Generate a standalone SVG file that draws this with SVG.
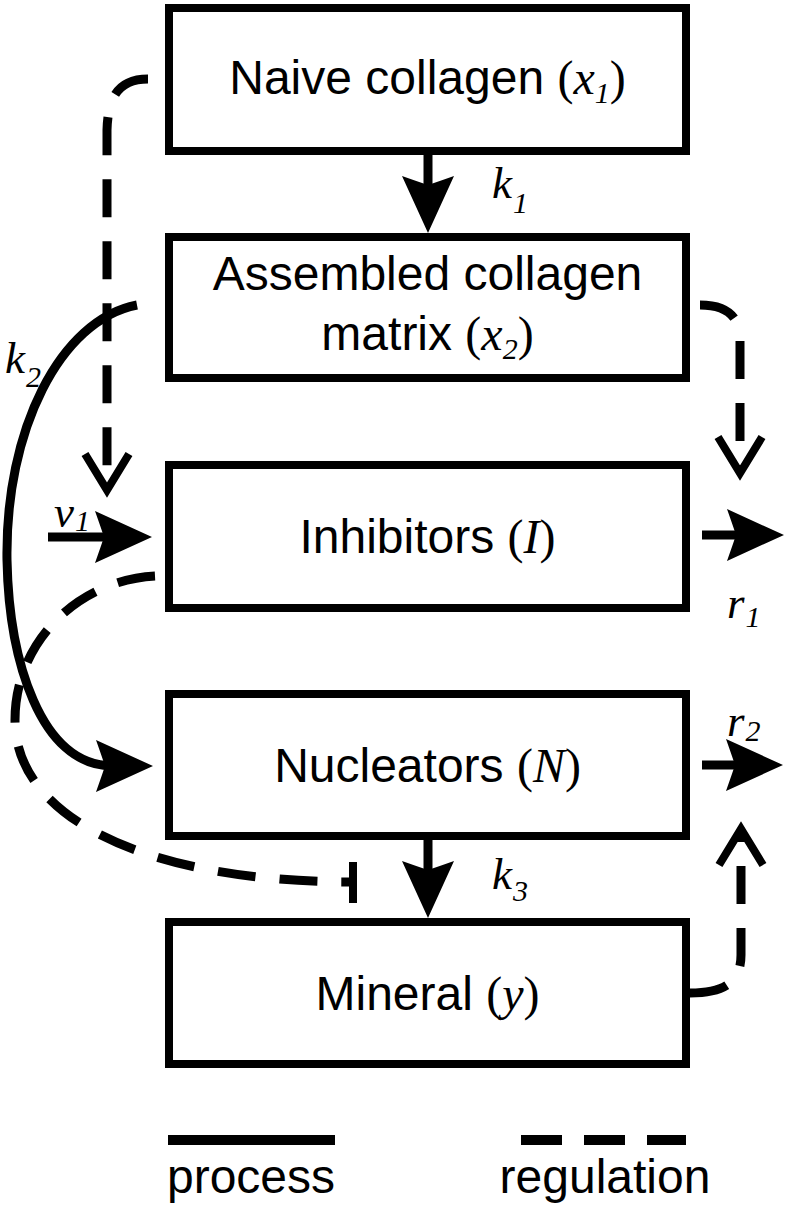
<svg xmlns="http://www.w3.org/2000/svg" xmlns:xlink="http://www.w3.org/1999/xlink" width="787" height="1213" viewBox="0 0 787 1213">
<style>
.box{fill:#fff;stroke:#000;stroke-width:8}
.t{font-family:"Liberation Sans",Arial,sans-serif;font-size:48px;fill:#000;text-anchor:middle}
.m{font-family:"Liberation Serif","Times New Roman",serif}
.i{font-style:italic}
.s{font-size:30px}
.lab{font-family:"Liberation Serif","Times New Roman",serif;font-style:italic;font-size:45px;fill:#000}
.ls{font-size:30px}
.sol{fill:none;stroke:#000;stroke-width:9}
.dsh{fill:none;stroke:#000;stroke-width:9;stroke-dasharray:38 24}
.v{fill:none;stroke:#000;stroke-width:8;stroke-linejoin:miter}
.lg{font-family:"Liberation Sans",Arial,sans-serif;font-size:48px;fill:#000;text-anchor:middle}
</style>
<defs>
<path id="ah" d="M0,0 L-57,-26 Q-51,-9 -48,0 Q-51,9 -57,26 Z" fill="#000"/>
<path id="va" d="M-36,-22 L0,0 L-36,22" class="v"/>
</defs>
<g id="connectors">
<!-- k1 -->
<line x1="428" y1="155" x2="428" y2="200" class="sol"/>
<use xlink:href="#ah" transform="translate(428,233) rotate(90)"/>
<!-- k3 -->
<line x1="428" y1="840" x2="428" y2="885" class="sol"/>
<use xlink:href="#ah" transform="translate(428,918) rotate(90)"/>
<!-- k2 -->
<path d="M137,305 C60,320 5,430 7,560 C9,660 40,765 112,766" class="sol"/>
<use xlink:href="#ah" transform="translate(153,766)"/>
<!-- v1 -->
<line x1="48" y1="537" x2="112" y2="537" class="sol"/>
<use xlink:href="#ah" transform="translate(152,537)"/>
<!-- r1 -->
<line x1="702" y1="535" x2="745" y2="535" class="sol"/>
<use xlink:href="#ah" transform="translate(784,535)"/>
<!-- r2 -->
<line x1="702" y1="765" x2="745" y2="765" class="sol"/>
<use xlink:href="#ah" transform="translate(783,765)"/>
<!-- regulation x1 -> I -->
<path d="M148,79 C120,79 108,95 107,130 L107,488" class="dsh"/>
<use xlink:href="#va" transform="translate(107,490) rotate(90)"/>
<!-- regulation x2 -> r1 -->
<path d="M700,305 C725,305 740,315 740,340 L740,471" class="dsh"/>
<use xlink:href="#va" transform="translate(740,473) rotate(90)"/>
<!-- regulation y -> r2 -->
<path d="M690,993 C720,993 741,985 741,955 L741,831" class="dsh"/>
<use xlink:href="#va" transform="translate(741,829) rotate(-90)"/>
<!-- inhibition I -| k3 -->
<path d="M155,576 C80,580 15,640 15,720 C15,820 150,882 353,882" class="dsh"/>
<line x1="353" y1="862" x2="353" y2="903" class="v"/>
</g>
<g id="labels">
<text x="492" y="198" class="lab">k<tspan class="ls" dx="1" dy="15">1</tspan></text>
<text x="5" y="373" class="lab">k<tspan class="ls" dx="1" dy="14">2</tspan></text>
<text x="492" y="889" class="lab">k<tspan class="ls" dx="1" dy="12">3</tspan></text>
<text x="54" y="527" class="lab">v<tspan class="ls" dx="1" dy="4">1</tspan></text>
<text x="727" y="618" class="lab">r<tspan class="ls" dx="1" dy="9">1</tspan></text>
<text x="727" y="736" class="lab">r<tspan class="ls" dx="1" dy="5">2</tspan></text>
</g>
<g id="naive">
<rect x="169" y="8" width="517" height="143" class="box"/>
<text x="427.5" y="94" class="t">Naive collagen <tspan class="m">(<tspan class="i">x</tspan><tspan class="i s" dy="9">1</tspan><tspan dy="-9">)</tspan></tspan></text>
</g>
<g id="assembled">
<rect x="169" y="237" width="517" height="141" class="box"/>
<text x="427.5" y="290" class="t">Assembled collagen</text>
<text x="427.5" y="350" class="t">matrix <tspan class="m">(<tspan class="i">x</tspan><tspan class="i s" dy="9">2</tspan><tspan dy="-9">)</tspan></tspan></text>
</g>
<g id="inhibitors">
<rect x="169" y="465" width="517" height="143" class="box"/>
<text x="427.5" y="553" class="t">Inhibitors <tspan class="m">(<tspan class="i">I</tspan>)</tspan></text>
</g>
<g id="nucleators">
<rect x="169" y="694" width="517" height="142" class="box"/>
<text x="427.5" y="782" class="t">Nucleators <tspan class="m">(<tspan class="i">N</tspan>)</tspan></text>
</g>
<g id="mineral">
<rect x="169" y="922" width="517" height="142" class="box"/>
<text x="427.5" y="1010" class="t">Mineral <tspan class="m">(<tspan class="i">y</tspan>)</tspan></text>
</g>
<g id="legend">
<line x1="168" y1="1140" x2="335" y2="1140" stroke="#000" stroke-width="10"/>
<line x1="521" y1="1140" x2="686" y2="1140" stroke="#000" stroke-width="10" stroke-dasharray="41 22"/>
<text x="251" y="1193" class="lg">process</text>
<text x="605" y="1193" class="lg">regulation</text>
</g>
</svg>
